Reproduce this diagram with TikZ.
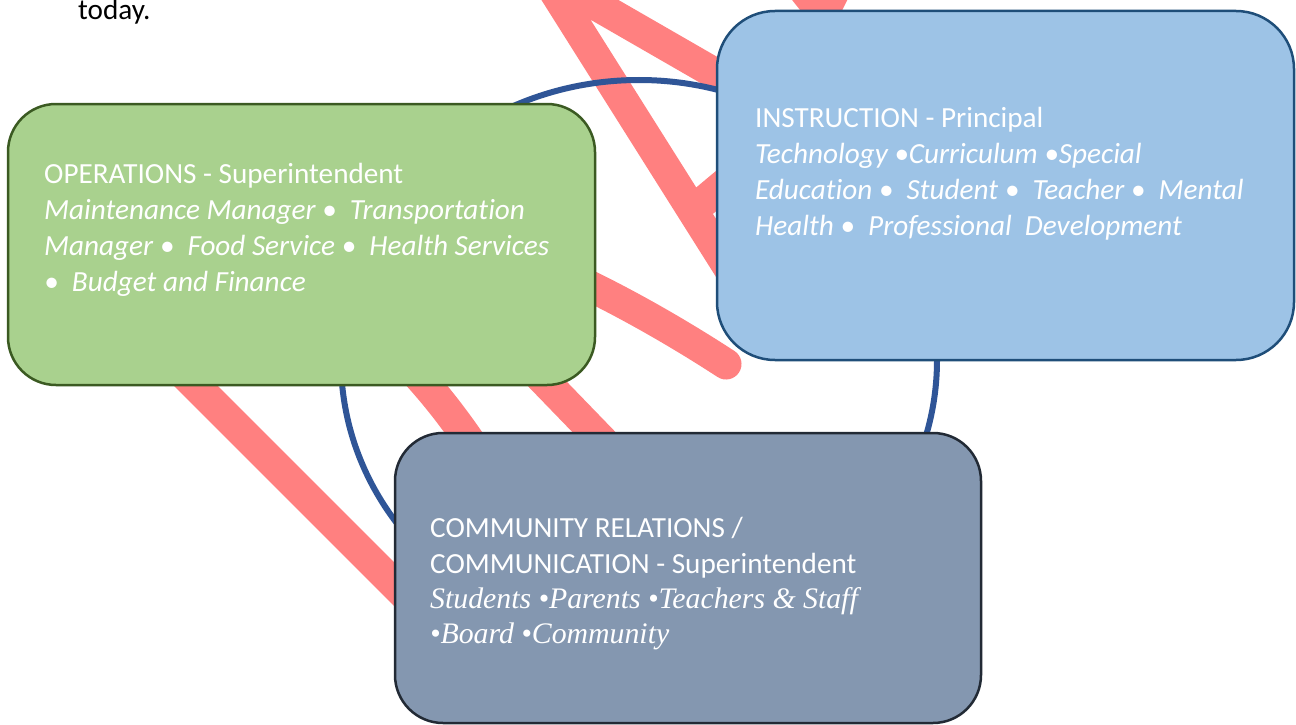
\documentclass[tikz,border=0pt]{standalone}
\usepackage{fontspec}
\setmainfont{Carlito}[Ligatures={NoCommon}]
\newfontfamily\timesfam{Liberation Serif}
\definecolor{pinkc}{HTML}{FF8080}
\definecolor{ringc}{HTML}{2F5597}
\definecolor{opfill}{HTML}{A9D18E}
\definecolor{opline}{HTML}{3B5A22}
\definecolor{infill}{HTML}{9DC3E6}
\definecolor{inline}{HTML}{1F4E79}
\definecolor{cofill}{HTML}{8497B0}
\definecolor{coline}{HTML}{222A35}
\tikzset{
  scribble/.style={draw=pinkc, line width=31pt, line cap=round, line join=round},
  ring/.style={draw=ringc, line width=6pt},
  boxbase/.style={rectangle, line width=2.5pt, inner sep=0pt},
  opbox/.style={boxbase, fill=opfill, draw=opline, minimum width=587pt, minimum height=281pt, rounded corners=48pt},
  inbox/.style={boxbase, fill=infill, draw=inline, minimum width=577pt, minimum height=349pt, rounded corners=58pt},
  cobox/.style={boxbase, fill=cofill, draw=coline, minimum width=586pt, minimum height=290pt, rounded corners=48pt},
  txt/.style={anchor=base west, inner sep=0pt, text=white, font=\fontsize{29.2pt}{36pt}\selectfont},
  txtit/.style={txt, font=\fontsize{29.2pt}{36pt}\selectfont\itshape},
  txtser/.style={txt, font=\fontsize{29.8pt}{36pt}\selectfont\timesfam\itshape}
}
\begin{document}
\begin{tikzpicture}[x=1pt,y=-1pt]
\clip (0,0) rectangle (1296,725);
\fill[white] (0,0) rectangle (1296,725);

% red scribbles behind everything
\draw[scribble] (735,85) -- (544,-25) -- (735,278);
\draw[scribble] (697,207) -- (770,146);
\draw[scribble] (773,-49) -- (823,14) -- (856,-52);
\draw[scribble] (560,272) .. controls (620,299) and (680,334) .. (726,364);
\draw[scribble] (140,330) -- (460,650);
\draw[scribble] (378,333) .. controls (415,372) and (445,400) .. (495,480);
\draw[scribble] (500,335) -- (650,490);

% ring
\coordinate (ringc) at (639,360);
\draw[ring] (ringc) ellipse [x radius=298pt, y radius=280pt];

% boxes
\node[opbox] (ops) at (301.5,244.5) {};
\node[inbox] (ins) at (1005.5,185.5) {};
\node[cobox] (com) at (688,578) {};

% texts
\node[txt, text=black] (today) at (78,20) {today.};

\node[txt] (op1) at (44,183) {OPERATIONS - Superintendent};
\node[txtit] (op2) at (44,219) {Maintenance Manager •\ \ Transportation};
\node[txtit] (op3) at (44,255) {Manager •\ \ Food Service •\ \ Health Services};
\node[txtit] (op4) at (44,291) {•\ \ Budget and Finance};

\node[txt] (in1) at (755,127) {INSTRUCTION - Principal};
\node[txtit] (in2) at (755,163) {Technology •Curriculum •Special};
\node[txtit] (in3) at (755,199) {Education •\ \ Student •\ \ Teacher •\ \ Mental};
\node[txtit] (in4) at (755,235) {Health •\ \ Professional\ \ Development};

\node[txt] (co1) at (430,537) {COMMUNITY RELATIONS /};
\node[txt] (co2) at (430,573) {COMMUNICATION - Superintendent};
\node[txtser] (co3) at (430,608) {Students •Parents •Teachers \& Staff};
\node[txtser] (co4) at (430,643) {•Board •Community};
\end{tikzpicture}
\end{document}
